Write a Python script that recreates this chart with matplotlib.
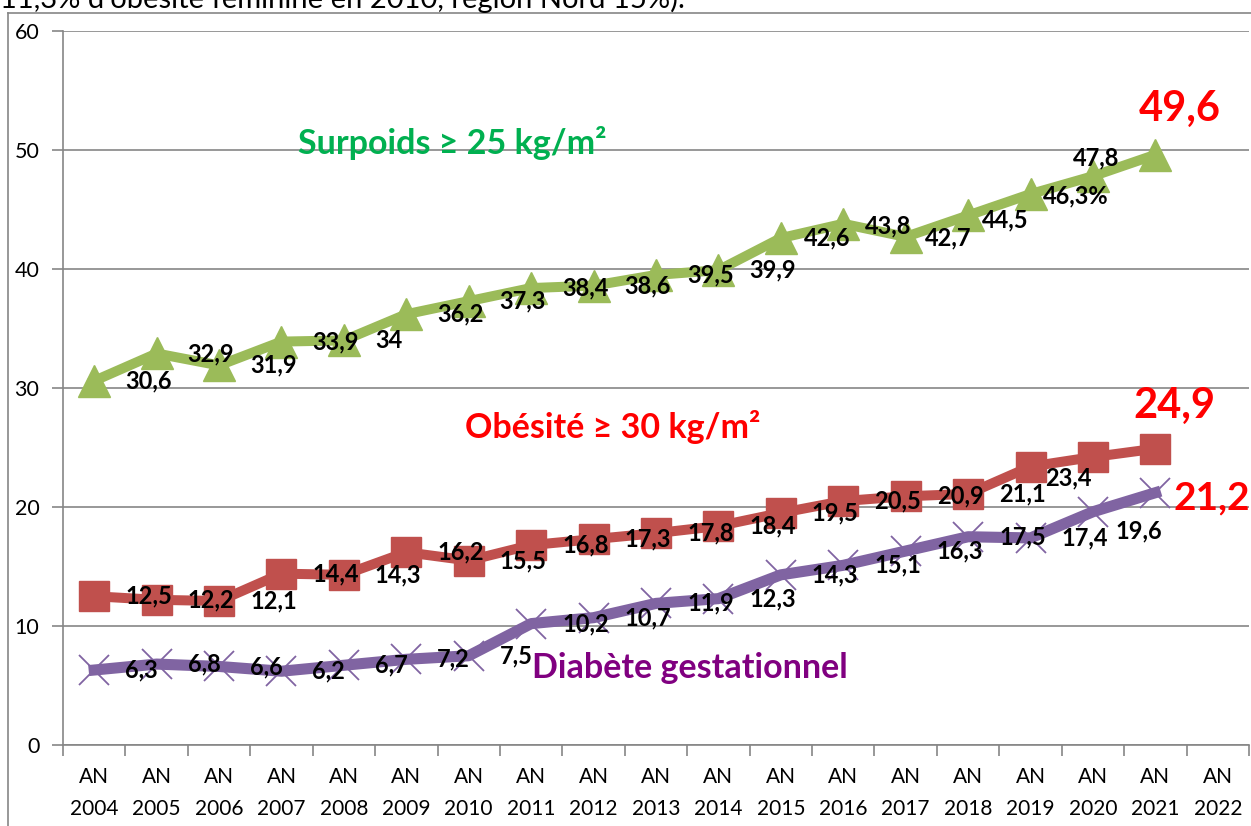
import numpy as np
import matplotlib.pyplot as plt
from matplotlib.lines import Line2D

plt.rcParams['font.family'] = ['Lato', 'DejaVu Sans']

# data
years = [f"AN\n{y}" for y in range(2004, 2023)]
surpoids = [30.6, 32.9, 31.9, 33.9, 34, 36.2, 37.3, 38.4, 38.6, 39.5, 39.9,
            42.6, 43.8, 42.7, 44.5, 46.3, 47.8, 49.6]
obesite = [12.5, 12.2, 12.1, 14.4, 14.3, 16.2, 15.5, 16.8, 17.3, 17.8, 18.4,
           19.5, 20.5, 20.9, 21.1, 23.4, 24.2, 24.9]
diabete = [6.3, 6.8, 6.6, 6.2, 6.7, 7.2, 7.5, 10.2, 10.7, 11.9, 12.3,
           14.3, 15.1, 16.3, 17.5, 17.4, 19.6, 21.2]
surpoids_txt = [str(v).replace('.', ',') for v in surpoids]
surpoids_txt[15] = "46,3%"

PX = 0.72  # points per pixel at dpi 100

fig = plt.figure(figsize=(12.51, 8.26), dpi=100)
ax = fig.add_axes([63/1251, 81/826, 1186/1251, 714/826])

x = np.arange(len(surpoids))
ax.plot(x, surpoids, color='#9BBB59', lw=7.2, marker='^', ms=23, mec='#9BBB59', zorder=3)
ax.plot(x, obesite, color='#C0504D', lw=7.2, marker='s', ms=21, mec='#C0504D', zorder=3)
ax.plot(x, diabete, color='#8064A2', lw=8, marker='x', ms=21, mew=1.3, zorder=3)

ax.set_xlim(-0.5, len(years) - 0.5)
ax.set_ylim(0, 60)
ax.set_yticks(range(0, 61, 10))
ax.yaxis.grid(True, color='#868686', lw=1.2)
ax.set_axisbelow(True)
ax.set_xticks(np.arange(-0.5, len(years)), [])
ax.set_xticks(np.arange(len(years)), years, minor=True)
ax.tick_params(axis='x', which='major', length=8, color='#868686', width=1.2)
ax.tick_params(axis='x', which='minor', length=0, labelsize=15, pad=16)
ax.tick_params(axis='y', length=8, color='#868686', width=1.2, labelsize=15.5, pad=9)
for lab in ax.get_xticklabels(minor=True):
    lab.set_linespacing(1.75)
for s in ['top', 'right']:
    ax.spines[s].set_visible(False)
for s in ['left', 'bottom']:
    ax.spines[s].set_color('#868686')
    ax.spines[s].set_linewidth(1.2)


# data labels: default to the right of each point, some moved by hand
def put_labels(vals, texts, moved, skip):
    for i, v in enumerate(vals):
        if i in skip:
            continue
        dx, dy = moved.get(i, (31, 0))
        ax.annotate(texts[i], (i, v), xytext=(dx*PX, -dy*PX), textcoords='offset points',
                    ha='left', va='center', fontsize=17, fontweight='bold', zorder=5)


put_labels(surpoids, surpoids_txt,
           {11: (23, 0), 12: (22, 2), 13: (19, 1), 14: (14, 4), 15: (12, 2), 16: (-20, -18)}, {17})
put_labels(obesite, [str(v).replace('.', ',') for v in obesite], {15: (15, 11)}, {16, 17})
put_labels(diabete, [str(v).replace('.', ',') for v in diabete], {16: (23, 19)}, {17})

# last values in big red
big = dict(fontweight='bold', color='#FF0000', va='center', textcoords='offset points')
ax.annotate("49,6", (17, surpoids[17]), xytext=(24*PX, 46*PX), ha='center', fontsize=30, **big)
ax.annotate("24,9", (17, obesite[17]), xytext=(19*PX, 43*PX), ha='center', fontsize=30, **big)
ax.annotate("21,2", (17, diabete[17]), xytext=(18*PX, -5*PX), ha='left', fontsize=28, **big)

# series names
ax.text(3.27, 50.6, "Surpoids ≥ 25 kg/m²", color='#00B050', fontsize=24.5, fontweight='bold', va='center')
ax.text(5.94, 26.7, "Obésité ≥ 30 kg/m²", color='#FF0000', fontsize=24.5, fontweight='bold', va='center')
ax.text(7.02, 6.5, "Diabète gestationnel", color='#800080', fontsize=24.5, fontweight='bold', va='center')

# piece of the slide text above (cut by the top edge, as in the source) and the chart frame
fig.text(0.0, 1 - 8/826, "11,3% d'obésité féminine en 2010, région Nord 15%).", fontsize=21, va='baseline')
fig.add_artist(Line2D([8/1251, 8/1251], [0, 1 - 13/826], color='#868686', lw=1.2))
fig.add_artist(Line2D([8/1251, 1], [1 - 13/826, 1 - 13/826], color='#868686', lw=1.2))

fig.savefig("out.png", dpi=100)
